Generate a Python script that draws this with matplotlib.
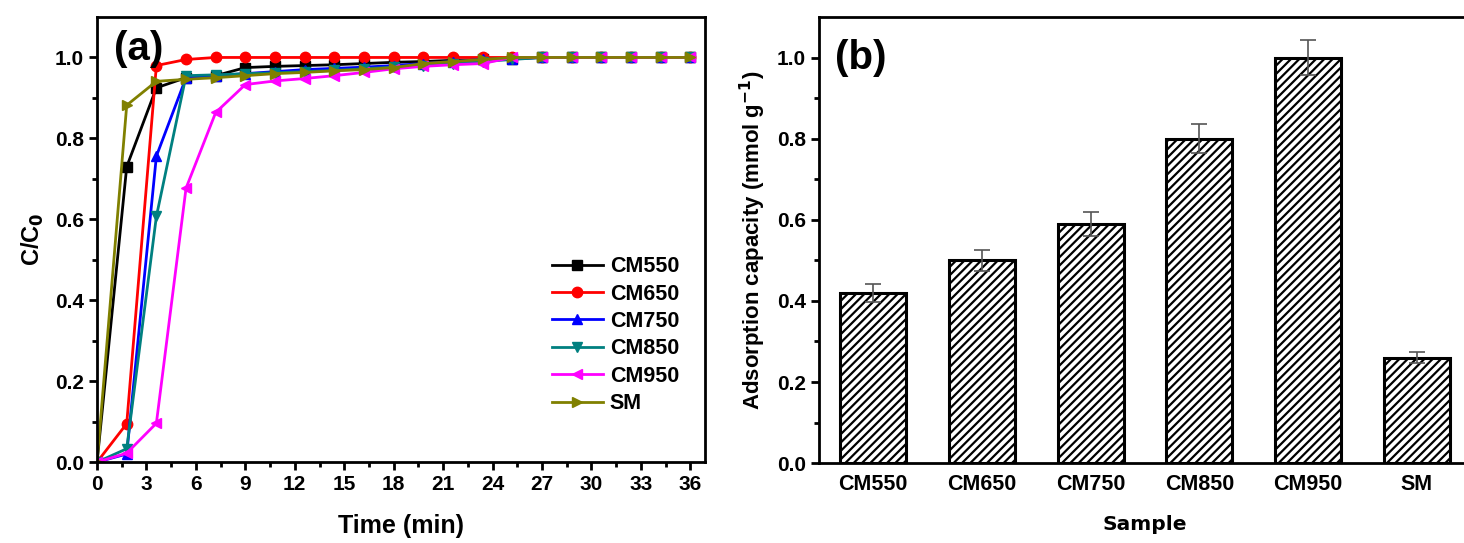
import matplotlib
matplotlib.use("Agg")
import matplotlib.pyplot as plt
import numpy as np

plt.rcParams['font.family'] = ['Liberation Sans', 'DejaVu Sans']
plt.rcParams['font.weight'] = 'bold'
plt.rcParams['hatch.linewidth'] = 1.6

# panel (a): breakthrough curves
time_min = [0, 1.8, 3.6, 5.4, 7.2, 9.0, 10.8, 12.6, 14.4, 16.2, 18.0,
            19.8, 21.6, 23.4, 25.2, 27.0, 28.8, 30.6, 32.4, 34.2, 36.0]
cm550 = [0, 0.73, 0.925, 0.95, 0.955, 0.975, 0.978, 0.98, 0.982, 0.985, 0.988,
         0.99, 0.993, 0.995, 0.997, 1.0, 1.0, 1.0, 1.0, 1.0, 1.0]
cm650 = [0, 0.095, 0.98, 0.995, 1.0, 1.0, 1.0, 1.0, 1.0, 1.0, 1.0,
         1.0, 1.0, 1.0, 1.0, 1.0, 1.0, 1.0, 1.0, 1.0, 1.0]
cm750 = [0, 0.02, 0.756, 0.95, 0.955, 0.96, 0.965, 0.97, 0.973, 0.976, 0.98,
         0.985, 0.99, 0.995, 0.997, 1.0, 1.0, 1.0, 1.0, 1.0, 1.0]
cm850 = [0, 0.033, 0.607, 0.955, 0.957, 0.96, 0.962, 0.965, 0.968, 0.972, 0.976,
         0.98, 0.985, 0.99, 0.995, 1.0, 1.0, 1.0, 1.0, 1.0, 1.0]
cm950 = [0, 0.022, 0.096, 0.677, 0.864, 0.933, 0.942, 0.948, 0.955, 0.963, 0.972,
         0.978, 0.982, 0.985, 1.0, 1.0, 1.0, 1.0, 1.0, 1.0, 1.0]
sm = [0, 0.882, 0.941, 0.946, 0.95, 0.955, 0.96, 0.963, 0.967, 0.97, 0.975,
      0.985, 0.99, 0.995, 1.0, 1.0, 1.0, 1.0, 1.0, 1.0, 1.0]

series_names = ['CM550', 'CM650', 'CM750', 'CM850', 'CM950', 'SM']

# panel (b): adsorption capacity
samples = ['CM550', 'CM650', 'CM750', 'CM850', 'CM950', 'SM']
capacity = [0.42, 0.50, 0.59, 0.80, 1.00, 0.26]
capacity_err = [0.022, 0.025, 0.03, 0.035, 0.043, 0.013]

fig = plt.figure(figsize=(14.64, 5.43), dpi=100)
ax1 = fig.add_axes([0.0663, 0.149, 0.4153, 0.8197])
ax2 = fig.add_axes([0.5594, 0.147, 0.4454, 0.8217])

colors = ['black', '#ff0000', '#0000ff', '#008080', '#ff00ff', '#808000']
markers = ['s', 'o', '^', 'v', '<', '>']
all_y = [cm550, cm650, cm750, cm850, cm950, sm]
for y, c, m, name in zip(all_y, colors, markers, series_names):
    ax1.plot(time_min, y, color=c, marker=m, markersize=7.5, linewidth=2, label=name)

ax1.set_xlim(0, 36.9)
ax1.set_ylim(0, 1.1)
ax1.set_xticks(np.arange(0, 37, 3))
ax1.set_xticks(np.arange(0, 37, 1.5), minor=True)
ax1.set_yticks(np.arange(0, 1.01, 0.2))
ax1.set_yticks(np.arange(0, 1.01, 0.1), minor=True)
ax1.yaxis.set_major_formatter(matplotlib.ticker.FormatStrFormatter('%.1f'))
ax1.tick_params(which='major', direction='out', length=6, width=2, labelsize=15)
ax1.tick_params(which='minor', direction='out', length=3.5, width=2)
for s in ax1.spines.values():
    s.set_linewidth(2)
ax1.set_xlabel('Time (min)', fontsize=18, fontweight='bold', labelpad=14)
ax1.set_ylabel('C/C$_\\mathbf{0}$', fontsize=17, fontweight='bold', labelpad=6)
ax1.text(0.028, 0.97, '(a)', transform=ax1.transAxes, fontsize=29,
         fontweight='bold', va='top', ha='left')
ax1.legend(loc='center right', bbox_to_anchor=(0.975, 0.285), frameon=False,
           fontsize=15.5, handlelength=2.4, labelspacing=0.3, borderpad=0,
           handletextpad=0.3)

x = np.arange(len(samples))
ax2.bar(x, capacity, width=0.61, color='white', edgecolor='black',
        linewidth=2.2, hatch='////')
ax2.errorbar(x, capacity, yerr=capacity_err, fmt='none', ecolor='#555555',
             elinewidth=1.2, capsize=6, capthick=1.2)
ax2.set_xlim(-0.5, 5.5)
ax2.set_ylim(0, 1.1)
ax2.set_xticks(x)
ax2.set_xticklabels(samples)
ax2.set_yticks(np.arange(0, 1.01, 0.2))
ax2.set_yticks(np.arange(0, 1.01, 0.1), minor=True)
ax2.yaxis.set_major_formatter(matplotlib.ticker.FormatStrFormatter('%.1f'))
ax2.tick_params(axis='x', length=0, labelsize=15.5, pad=8)
ax2.tick_params(axis='y', which='major', direction='out', length=6, width=2, labelsize=15)
ax2.tick_params(axis='y', which='minor', direction='out', length=3.5, width=2)
for s in ax2.spines.values():
    s.set_linewidth(2)
ax2.set_ylabel('Adsorption capacity (mmol g$^{\\mathbf{-1}}$)', fontsize=16,
               fontweight='bold', labelpad=6)
ax2.set_xlabel('Sample', fontsize=14.5, fontweight='bold', family='DejaVu Sans',
               labelpad=14)
ax2.text(0.025, 0.95, '(b)', transform=ax2.transAxes, fontsize=29,
         fontweight='bold', va='top', ha='left')

fig.savefig('out.png', dpi=100)
